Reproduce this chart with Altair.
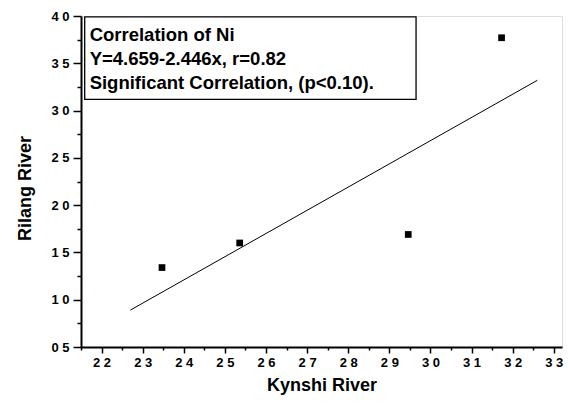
import altair as alt
import pandas as pd

# Data
kynshi = [2.347, 2.536, 2.946, 3.173]
rilang = [1.34, 1.60, 1.69, 3.77]

# Fitted line endpoints
fit_x = [2.27, 3.26]
fit_y = [0.89, 3.32]

# Axis ticks (major + minor)
x_ticks = [2.15, 2.2, 2.25, 2.3, 2.35, 2.4, 2.45, 2.5, 2.55, 2.6, 2.65, 2.7, 2.75,
           2.8, 2.85, 2.9, 2.95, 3.0, 3.05, 3.1, 3.15, 3.2, 3.25, 3.3]
y_ticks = [0.5, 0.75, 1.0, 1.25, 1.5, 1.75, 2.0, 2.25, 2.5, 2.75, 3.0, 3.25, 3.5, 3.75, 4.0]

# Annotation box (data coordinates) and its lines
box_x = [2.159, 2.965]
box_y = [3.118, 3.99]
note_lines = ["Correlation of Ni", "Y=4.659-2.446x, r=0.82", "Significant Correlation, (p<0.10)."]
note_y = [3.739, 3.483, 3.225]
note_x = 2.171

FONT = "Liberation Sans"

pts = pd.DataFrame({"x": kynshi, "y": rilang})
fit = pd.DataFrame({"x": fit_x, "y": fit_y})
box = pd.DataFrame({"x": [box_x[0]], "x2": [box_x[1]], "y": [box_y[0]], "y2": [box_y[1]]})
notes = pd.DataFrame({"x": [note_x] * 3, "y": note_y, "t": note_lines})

xscale = alt.Scale(domain=[2.15, 3.32], nice=False, zero=False)
yscale = alt.Scale(domain=[0.5, 4.0], nice=False, zero=False)

x_major = "abs(datum.value*10 - round(datum.value*10)) < 0.001"
y_major = "abs(datum.value*2 - round(datum.value*2)) < 0.001"

xaxis = alt.Axis(
    values=x_ticks, tickCount=100,
    title="Kynshi River",
    titleFont=FONT, titleFontSize=18, titleFontWeight="bold", titleColor="black",
    titleY=43, titleBaseline="alphabetic",
    labelExpr=f"({x_major}) ? replace(format(datum.value, '.1f'), '.', ' ') : ''",
    labelFont=FONT, labelFontSize=13, labelFontWeight="bold", labelColor="black",
    labelPadding=3, labelOverlap=False, labelFlush=False,
    tickSize={"condition": {"test": x_major, "value": 6}, "value": 3},
    tickColor="black", tickWidth=1.5,
    domainColor="black", domainWidth=2, grid=False,
)
yaxis = alt.Axis(
    values=y_ticks, tickCount=100,
    title="Rilang River",
    titleFont=FONT, titleFontSize=18, titleFontWeight="bold", titleColor="black",
    titleAngle=-90, titleX=-47, titleY=172, titleAlign="center", titleBaseline="bottom",
    labelExpr=f"({y_major}) ? replace(format(datum.value, '.1f'), '.', ' ') : ''",
    labelFont=FONT, labelFontSize=13, labelFontWeight="bold", labelColor="black",
    labelPadding=4, labelOverlap=False, labelFlush=False,
    tickSize={"condition": {"test": y_major, "value": 8}, "value": 4},
    tickColor="black", tickWidth=1.5,
    domainColor="black", domainWidth=2, grid=False,
)

points = alt.Chart(pts).mark_square(size=45, color="black", opacity=1).encode(
    x=alt.X("x:Q", scale=xscale, axis=xaxis),
    y=alt.Y("y:Q", scale=yscale, axis=yaxis),
)

line = alt.Chart(fit).mark_line(color="black", strokeWidth=1).encode(
    x=alt.X("x:Q", scale=xscale), y=alt.Y("y:Q", scale=yscale)
)

rect = alt.Chart(box).mark_rect(fill="white", stroke="black", strokeWidth=1.3).encode(
    x=alt.X("x:Q", scale=xscale), x2="x2:Q",
    y=alt.Y("y:Q", scale=yscale), y2="y2:Q",
)

text = alt.Chart(notes).mark_text(
    align="left", baseline="alphabetic", font=FONT, fontSize=18.5, fontWeight="bold", color="black"
).encode(
    x=alt.X("x:Q", scale=xscale), y=alt.Y("y:Q", scale=yscale), text="t:N"
)

chart = alt.layer(points, line, rect, text).properties(
    width=481, height=331,
    autosize=alt.AutoSizeParams(type="none"),
    padding={"left": 73, "top": 8, "right": 2, "bottom": 48},
).configure_view(stroke=None).configure(background="white")

chart.save("out.html", embed_options={"renderer": "svg", "actions": False})
